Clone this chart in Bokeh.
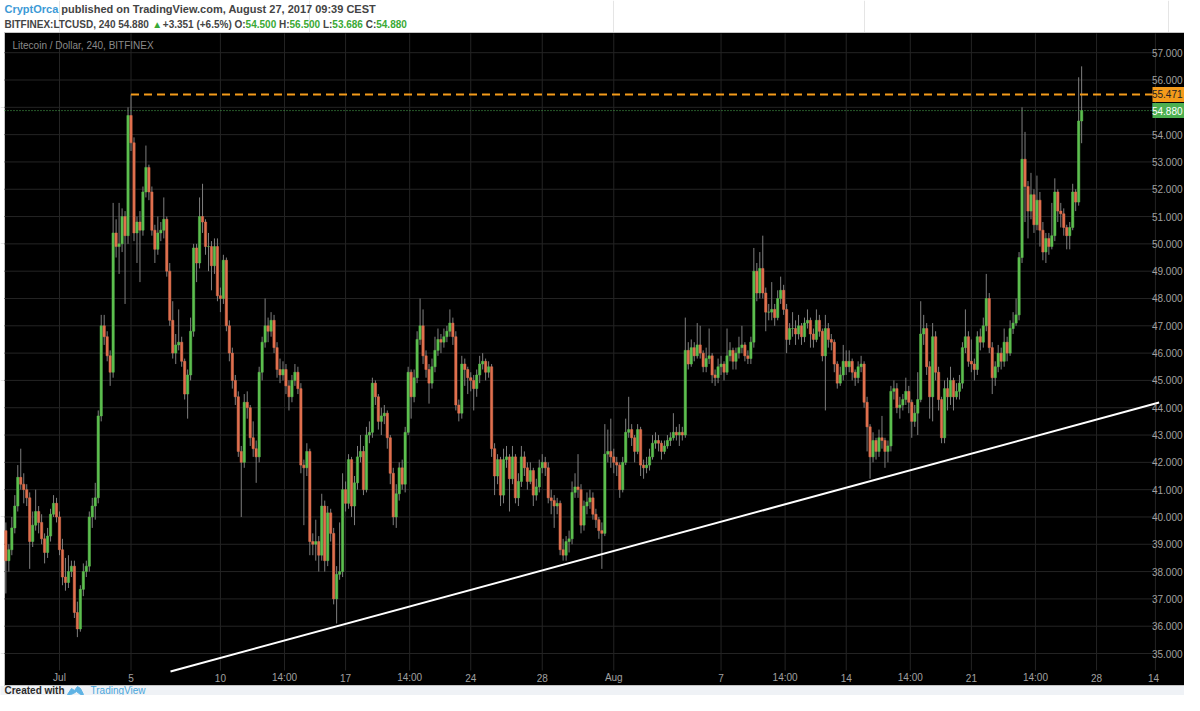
import pandas as pd
from bokeh.plotting import figure
from bokeh.models import Range1d
from bokeh.core.properties import value
from bokeh.embed import file_html
from bokeh.resources import INLINE

# ---------------- data (4h candles, BITFINEX:LTCUSD) ----------------
START = "2017-06-28 00:00"
BAR_HOURS = 4
FIRST_OPEN = 39.5

closes = [
    38.4, 38.8, 39.6, 40.4, 41.45, 41.2,
    41.0, 40.7, 39.1, 39.7, 40.2, 39.8,
    39.2, 38.7, 39.3, 40.1, 40.5, 40.0,
    38.8, 37.8, 37.6, 38.0, 38.2, 36.5,
    35.9, 37.35, 38.0, 38.2, 40.0, 40.4,
    40.7, 43.7, 47.0, 46.6, 45.9, 45.3,
    50.4, 49.9, 50.0, 51.0, 50.3, 54.7,
    53.7, 50.4, 50.8, 50.5, 51.9, 52.8,
    51.9, 50.5, 49.8, 50.4, 50.5, 50.9,
    49.0, 47.2, 46.0, 46.3, 46.4, 45.7,
    44.5, 45.2, 46.8, 49.85, 49.3, 51.0,
    50.8, 49.9, 49.9, 49.2, 49.9, 48.1,
    48.0, 49.4, 47.0, 46.0, 45.0, 44.4,
    42.4, 42.0, 44.2, 44.0, 42.9, 42.5,
    42.2, 45.3, 46.4, 47.0, 46.8, 47.2,
    46.2, 45.4, 45.2, 45.4, 44.8, 44.4,
    45.0, 45.3, 44.7, 41.9, 41.8, 42.4,
    39.1, 39.0, 39.1, 38.6, 40.4, 38.4,
    40.15, 39.4, 37.0, 37.9, 38.0, 41.0,
    40.5, 42.1, 40.4, 41.25, 42.2, 42.4,
    41.0, 43.0, 43.1, 44.9, 44.4, 43.5,
    43.7, 43.8, 42.9, 41.6, 40.0, 40.85,
    41.8, 41.2, 43.1, 45.3, 44.4, 45.1,
    46.5, 47.0, 45.9, 45.4, 44.9, 45.5,
    46.1, 46.5, 46.4, 46.6, 46.8, 47.1,
    46.6, 44.1, 43.8, 45.6, 45.4, 45.1,
    45.0, 44.7, 45.2, 45.6, 45.7, 45.3,
    45.5, 42.5, 41.5, 42.1, 40.8, 42.1,
    42.2, 41.4, 42.2, 40.7, 41.3, 42.2,
    41.8, 41.3, 41.7, 40.8, 41.1, 41.8,
    42.0, 41.8, 40.7, 40.6, 40.4, 40.5,
    38.8, 38.6, 39.1, 39.2, 40.9, 41.1,
    41.0, 39.7, 40.4, 40.55, 40.7, 40.1,
    39.9, 39.5, 39.4, 42.3, 42.4, 42.2,
    42.0, 41.9, 41.0, 42.0, 43.1, 43.2,
    42.9, 42.4, 43.2, 41.9, 41.8, 41.9,
    42.2, 42.7, 42.8, 42.7, 42.4, 42.6,
    42.8, 42.9, 43.1, 43.0, 43.1, 43.0,
    46.1, 45.6, 46.2, 45.9, 46.3, 46.0,
    45.5, 45.8, 45.9, 45.2, 45.1, 45.5,
    45.6, 45.3, 45.9, 46.1, 45.7, 46.0,
    46.2, 46.3, 45.9, 45.8, 46.4, 49.0,
    48.2, 49.1, 48.2, 47.5, 47.5, 47.6,
    47.3, 48.0, 48.3, 47.6, 46.5, 46.9,
    46.9, 46.7, 47.0, 46.6, 47.1, 47.2,
    46.7, 46.5, 47.2, 46.8, 45.9, 46.9,
    46.5, 46.4, 45.6, 44.9, 45.2, 45.7,
    45.5, 45.7, 45.3, 45.1, 45.5, 45.6,
    44.2, 43.3, 42.2, 42.8, 42.4, 42.9,
    42.8, 42.4, 42.6, 44.6, 44.7, 44.0,
    44.1, 44.3, 44.6, 44.2, 43.5, 43.8,
    44.3, 46.7, 46.9, 45.5, 44.4, 46.6,
    45.3, 44.3, 42.9, 44.7, 44.4, 45.0,
    44.4, 44.6, 44.9, 46.2, 46.6, 45.7,
    45.6, 45.4, 46.6, 46.4, 47.0, 48.0,
    46.2, 45.1, 45.5, 46.0, 45.7, 46.4,
    46.0, 46.9, 47.1, 47.4, 49.5, 53.1,
    52.1, 51.2, 51.8, 50.7, 51.6, 50.5,
    49.7, 50.2, 49.9, 50.3, 51.9, 51.2,
    51.1, 50.6, 50.3, 50.6, 51.9, 51.529,
    54.5, 54.88,
]

highs = [
    39.8, 39.0, 40.0, 40.8, 41.9, 42.5,
    41.6, 41.2, 40.9, 40.2, 41.0, 40.4,
    40.1, 39.4, 39.6, 40.3, 40.8, 40.7,
    40.2, 39.2, 38.5, 38.6, 38.4, 38.4,
    36.9, 37.5, 38.3, 38.4, 40.2, 40.7,
    41.25, 43.9, 47.4, 47.4, 46.8, 46.1,
    51.5, 50.9, 51.5, 51.3, 51.2, 55.0,
    55.471, 53.9, 51.0, 51.2, 52.1, 53.6,
    52.9, 52.1, 50.7, 51.0, 50.8, 51.7,
    51.0, 49.3, 47.9, 46.7, 47.6, 46.6,
    45.8, 45.4, 47.3, 50.0, 50.0, 51.7,
    52.2, 50.9, 50.4, 50.1, 50.2, 50.2,
    48.4, 49.6, 49.5, 47.2, 46.2, 45.2,
    44.6, 42.6, 44.5, 44.6, 44.1, 43.5,
    42.8, 45.5, 46.6, 48.0, 47.3, 47.5,
    47.4, 46.4, 45.8, 45.7, 45.6, 45.0,
    45.2, 45.6, 45.5, 44.9, 42.1, 42.7,
    42.5, 39.4, 39.9, 39.3, 40.85, 40.6,
    40.4, 40.3, 39.6, 38.2, 39.8, 41.6,
    41.3, 42.3, 42.2, 41.5, 42.6, 43.0,
    42.6, 43.3, 43.5, 45.1, 45.0, 44.5,
    44.0, 44.1, 43.9, 43.0, 41.8, 41.2,
    42.0, 42.1, 43.3, 45.5, 45.4, 45.4,
    46.8, 48.0, 47.6, 46.1, 45.6, 45.8,
    46.6, 46.9, 46.7, 46.9, 47.0, 47.6,
    47.3, 46.8, 44.3, 45.9, 45.8, 45.5,
    45.3, 45.2, 45.4, 45.9, 46.0, 45.8,
    45.7, 45.6, 42.7, 42.3, 42.2, 42.5,
    42.6, 42.3, 42.6, 42.3, 41.6, 42.6,
    42.4, 42.0, 42.0, 41.8, 41.4, 42.1,
    42.3, 42.2, 42.0, 41.0, 40.8, 40.7,
    40.6, 39.2, 39.3, 39.5, 41.3, 41.6,
    42.3, 41.2, 40.6, 40.9, 41.0, 40.9,
    40.3, 40.0, 39.8, 43.4, 43.2, 43.6,
    42.5, 42.2, 42.0, 42.2, 43.6, 44.4,
    43.4, 43.0, 43.4, 43.3, 42.1, 42.2,
    42.5, 43.0, 43.1, 43.0, 42.8, 42.8,
    43.0, 43.1, 43.8, 43.3, 43.4, 43.3,
    47.3, 46.4, 46.5, 46.4, 47.1, 47.0,
    46.1, 46.2, 46.9, 46.0, 45.4, 45.8,
    45.9, 45.7, 46.9, 46.4, 46.2, 46.2,
    46.6, 47.0, 46.4, 46.1, 46.6, 49.85,
    49.3, 49.7, 50.3, 48.4, 47.8, 48.6,
    47.8, 48.3, 48.8, 48.5, 47.8, 47.1,
    47.5, 47.2, 47.4, 47.1, 47.3, 47.6,
    47.3, 46.9, 47.6, 47.4, 46.9, 47.4,
    47.1, 46.7, 46.5, 45.7, 45.5, 46.3,
    46.1, 46.1, 45.8, 45.4, 45.7, 45.9,
    45.7, 44.4, 43.4, 43.1, 42.9, 43.2,
    43.7, 42.9, 42.8, 44.8, 45.0, 44.9,
    44.4, 44.5, 45.1, 44.8, 44.3, 44.1,
    45.3, 47.9, 47.4, 47.1, 45.7, 47.1,
    46.8, 45.5, 44.4, 45.0, 45.1, 45.5,
    45.1, 44.9, 45.2, 46.4, 47.6, 46.8,
    46.5, 45.8, 46.8, 46.9, 47.3, 48.9,
    48.2, 46.4, 45.7, 46.3, 46.2, 46.9,
    46.6, 47.2, 47.5, 48.0, 49.7, 55.0,
    54.1, 52.3, 52.6, 52.0, 52.5, 51.9,
    50.8, 50.4, 50.4, 51.5, 52.4, 52.0,
    51.5, 51.3, 50.7, 50.8, 52.2, 52.0,
    56.1, 56.5,
]

lows = [
    37.2, 38.0, 38.6, 39.4, 40.2, 41.0,
    40.5, 40.4, 38.1, 38.9, 39.5, 39.4,
    39.0, 38.3, 38.5, 39.1, 40.0, 39.8,
    38.6, 37.5, 37.3, 37.4, 37.8, 36.3,
    35.6, 35.8, 37.1, 37.8, 38.0, 39.6,
    39.9, 40.5, 43.5, 46.3, 45.7, 44.8,
    45.1, 49.5, 48.9, 49.7, 47.8, 50.0,
    53.4, 50.1, 49.3, 48.6, 50.3, 51.7,
    51.6, 50.3, 49.3, 49.6, 50.1, 50.2,
    48.8, 47.0, 45.8, 45.6, 46.1, 45.5,
    44.3, 43.6, 45.0, 46.6, 48.6, 49.1,
    50.4, 49.6, 49.0, 48.3, 48.9, 47.9,
    47.5, 47.8, 46.8, 45.7, 44.7, 44.1,
    42.2, 40.0, 41.8, 43.6, 42.6, 42.2,
    41.25, 42.0, 45.0, 46.2, 46.4, 46.6,
    46.0, 45.1, 44.9, 45.0, 44.5, 43.9,
    44.2, 44.8, 44.5, 41.6, 39.7, 41.5,
    38.6, 38.6, 38.4, 38.0, 38.4, 38.0,
    38.2, 39.1, 36.8, 36.1, 37.7, 37.8,
    40.2, 40.3, 40.0, 39.7, 41.0, 42.0,
    40.8, 40.9, 42.7, 42.9, 44.1, 43.2,
    43.0, 43.4, 42.5, 41.2, 39.7, 39.6,
    40.6, 41.0, 40.9, 43.0, 43.6, 44.2,
    44.9, 46.3, 45.6, 45.1, 44.15, 44.7,
    45.3, 45.9, 46.0, 46.2, 46.4, 46.6,
    46.3, 43.9, 43.5, 43.6, 44.8, 44.5,
    44.6, 43.9, 44.4, 44.9, 45.4, 45.0,
    45.1, 42.2, 40.8, 41.2, 40.4, 40.5,
    41.8, 40.2, 41.2, 40.5, 40.4, 41.1,
    41.5, 41.0, 41.2, 40.4, 40.6, 40.9,
    41.6, 41.5, 40.5, 40.1, 39.6, 40.1,
    38.6, 38.4, 38.4, 38.7, 39.0, 40.7,
    40.7, 39.4, 39.5, 40.1, 40.3, 39.9,
    39.6, 39.2, 38.1, 39.3, 42.0, 41.8,
    41.6, 41.5, 40.7, 40.9, 41.9, 42.9,
    42.6, 42.0, 42.3, 41.5, 41.4, 41.6,
    41.7, 42.1, 42.5, 42.4, 42.1, 42.3,
    42.5, 42.6, 42.8, 42.8, 42.6, 42.8,
    42.9, 45.4, 45.5, 45.7, 45.8, 45.8,
    45.3, 45.3, 45.6, 44.9, 44.8, 44.9,
    45.2, 45.0, 45.2, 45.7, 45.4, 45.4,
    45.8, 46.0, 45.7, 45.6, 45.6, 46.2,
    47.9, 48.0, 48.0, 46.8, 47.2, 47.2,
    47.0, 47.2, 47.8, 47.4, 46.0, 46.3,
    46.6, 46.3, 46.5, 46.3, 46.4, 46.9,
    46.2, 46.2, 46.4, 46.6, 45.7, 43.9,
    46.2, 46.1, 45.3, 44.7, 44.8, 45.0,
    45.2, 45.3, 45.0, 44.8, 44.9, 45.3,
    44.0, 42.4, 41.4, 42.0, 42.1, 42.2,
    42.5, 41.8, 42.0, 42.4, 44.3, 43.8,
    43.6, 43.9, 44.1, 43.8, 42.9, 43.3,
    43.0, 44.2, 46.3, 45.2, 43.6, 43.5,
    45.0, 43.9, 42.7, 42.7, 43.9, 44.1,
    43.9, 44.3, 44.3, 44.7, 46.0, 45.5,
    45.3, 45.0, 45.2, 46.1, 46.2, 46.8,
    46.0, 44.5, 44.8, 45.3, 45.4, 45.5,
    45.7, 45.9, 46.7, 47.0, 47.2, 49.3,
    50.8, 50.2, 50.9, 50.4, 50.5, 49.9,
    49.4, 49.3, 49.6, 49.8, 50.1, 50.8,
    50.6, 50.3, 49.8, 49.8, 50.5, 51.2,
    51.4, 53.686,
]

price_ticks = list(range(35, 58))
time_ticks = ["2017-07-01", "2017-07-05", "2017-07-10", "2017-07-13 14:00",
              "2017-07-17", "2017-07-20 14:00", "2017-07-24", "2017-07-28",
              "2017-08-01", "2017-08-07", "2017-08-10 14:00", "2017-08-14",
              "2017-08-17 14:00", "2017-08-21", "2017-08-24 14:00", "2017-08-28",
              "2017-08-31 07:00"]
time_labels = ["Jul", "5", "10", "14:00", "17", "14:00", "24", "28", "Aug", "7",
               "14:00", "14", "14:00", "21", "14:00", "28", "14"]

trend_times = ["2017-07-07 05:00", "2017-08-31 12:00"]
trend_prices = [34.34, 44.19]
resistance_price = 55.471
resistance_from = "2017-07-05 00:00"
last_price = 54.880

header_line1 = [("CryptOrca", "#3d9ad6"),
                ("published on TradingView.com, August 27, 2017 09:39 CEST", "#444444")]
header_line2 = [("BITFINEX:LTCUSD, 240 54.880", "#444444"), ("\u25b2", "#3aa935"),
                ("+3.351 (+6.5%)", "#444444"),
                ("O:", "#444444"), ("54.500", "#3aa935"), ("H:", "#444444"), ("56.500", "#3aa935"),
                ("L:", "#444444"), ("53.686", "#3aa935"), ("C:", "#444444"), ("54.880", "#3aa935")]

# ---------------- layout helpers (reference pixel -> data) ----------------
PX_DAY = 17.88
JUL1 = pd.Timestamp("2017-07-01")


def ms(t):
    return pd.Timestamp(t).value / 1e6


def tx(ref_x):
    return ms(JUL1 + pd.Timedelta(days=(ref_x - 59.0) / PX_DAY))


def py(ref_y):
    return 57.0 - (ref_y - 52.2) / 27.31


# approximate advance widths (1/1000 em) of Liberation Sans Bold, for laying out header pieces
_W = {" ": 278, "%": 889, "(": 333, ")": 333, "+": 584, ",": 278, ".": 278, ":": 333, "/": 278,
      "\u25b2": 770}
_W.update({d: 556 for d in "0123456789"})
_W.update(dict(zip("ABCDEFGHIJKLMNOPQRSTUVWXYZ",
                   [722, 722, 722, 722, 667, 611, 778, 722, 278, 556, 722, 611, 833, 722, 778,
                    667, 778, 722, 667, 611, 722, 667, 944, 667, 667, 611])))
_W.update(dict(zip("abcdefghijklmnopqrstuvwxyz",
                   [556, 611, 556, 611, 556, 333, 611, 611, 278, 278, 556, 278, 889, 611, 611,
                    611, 611, 389, 556, 333, 611, 556, 778, 556, 556, 500])))


def text_w(s, size):
    return sum(_W.get(ch, 556) for ch in s) * size / 1000.0


FONT = "Liberation Sans"

p = figure(width=1184, height=695, output_backend="svg", toolbar_location=None,
           x_axis_type="datetime", x_axis_location=None, y_axis_location=None,
           x_range=Range1d(tx(0), tx(1184)), y_range=Range1d(py(695), py(0)),
           min_border=0, min_border_left=0, min_border_right=0,
           min_border_top=0, min_border_bottom=0)
p.outline_line_color = None
p.background_fill_color = "white"
p.border_fill_color = "white"

# chart panel
p.quad(left=[tx(4)], right=[tx(1196)], top=[py(32)], bottom=[py(685)],
       fill_color="black", line_color="#c4c4c4", line_width=1)
# footer band
p.quad(left=[tx(-2)], right=[tx(1200)], top=[py(685.5)], bottom=[py(700)],
       fill_color="#eff2f6", line_color=None)

# grid
p.segment(x0=[tx(4)] * len(price_ticks), x1=[tx(1156)] * len(price_ticks),
          y0=price_ticks, y1=price_ticks, line_color="#242424", line_width=1)
tt = [ms(t) for t in time_ticks]
p.segment(x0=tt, x1=tt, y0=[py(33)] * len(tt), y1=[py(670)] * len(tt),
          line_color="#242424", line_width=1)

# candles
n = len(closes)
opens = [FIRST_OPEN] + closes[:-1]
times = [ms(pd.Timestamp(START) + pd.Timedelta(hours=BAR_HOURS * i)) for i in range(n)]
up = [c >= o for o, c in zip(opens, closes)]
colors = ["#5cbf4f" if u else "#e0704f" for u in up]
tops = [max(o, c) for o, c in zip(opens, closes)]
bots = [min(o, c) for o, c in zip(opens, closes)]
bar_w = BAR_HOURS * 3600 * 1000 * 0.78

p.segment(x0=times, x1=times, y0=lows, y1=highs, line_color="#7e7e7e", line_width=1)
p.vbar(x=times, width=bar_w, top=tops, bottom=bots, fill_color=colors,
       line_color=colors, line_width=0.5)

# trend line
p.line(x=[ms(t) for t in trend_times], y=trend_prices, line_color="white", line_width=2)

# last price dotted line and resistance dashed line
p.line(x=[tx(4), tx(1156)], y=[last_price, last_price], line_color="#4caf50",
       line_width=1, line_dash="1 2")
p.line(x=[ms(resistance_from), tx(1156)], y=[resistance_price, resistance_price],
       line_color="#f49b1b", line_width=2, line_dash="8 5")

# price axis labels
p.text(x=[tx(1182)] * len(price_ticks), y=price_ticks,
       text=["%.3f" % v for v in price_ticks], text_align="right",
       text_baseline="middle", text_font=value(FONT), text_font_size="10px",
       text_color="#a0a0a0")
# time axis labels
lab_x = tt[:-1] + [tx(1153)]
p.text(x=lab_x, y=[py(677)] * len(lab_x), text=time_labels, text_align="center",
       text_baseline="middle", text_font=value(FONT), text_font_size="10px",
       text_color="#a0a0a0")

# price boxes
hh = 7.5 / 27.31
p.quad(left=[tx(1152)], right=[tx(1196)], top=[resistance_price + hh],
       bottom=[resistance_price - hh], fill_color="#f49b1b", line_color=None)
p.quad(left=[tx(1152)], right=[tx(1196)], top=[last_price + hh],
       bottom=[last_price - hh], fill_color="#4caf50", line_color=None)
p.text(x=[tx(1182)], y=[resistance_price], text=["%.3f" % resistance_price],
       text_align="right", text_baseline="middle", text_font=value(FONT),
       text_font_size="10px", text_color="#222222")
p.text(x=[tx(1182)], y=[last_price], text=["%.3f" % last_price],
       text_align="right", text_baseline="middle", text_font=value(FONT),
       text_font_size="10px", text_color="white")

# symbol caption
p.text(x=[tx(12)], y=[py(45)], text=["Litecoin / Dollar, 240, BITFINEX"],
       text_align="left", text_baseline="middle", text_font=value(FONT),
       text_font_size="10px", text_color="#8a8a8a")


# header (pieces laid out one after another)
def header_row(pieces, ref_y, size, gaps):
    xs, cur = [], 4.0
    for (s, _), g in zip(pieces, gaps):
        xs.append(cur)
        cur += text_w(s, size) + (text_w(" ", size) if g else 0)
    p.text(x=[tx(v) for v in xs], y=[py(ref_y)] * len(pieces), text=[s for s, _ in pieces],
           text_color=[c for _, c in pieces], text_align="left", text_baseline="middle",
           text_font=value(FONT), text_font_size="%gpx" % size, text_font_style="bold")


header_row(header_line1, 8.5, 11, [True, True])
header_row(header_line2, 23.5, 10, [True, True, True, False, True, False, True, False, True, False, True])

# footer
p.text(x=[tx(4)], y=[py(690)], text=["Created with"], text_align="left",
       text_baseline="middle", text_font=value(FONT), text_font_size="10px",
       text_font_style="bold", text_color="#2a2a2a")
p.patch(x=[tx(67), tx(71), tx(74), tx(77), tx(80), tx(83), tx(80), tx(76), tx(73), tx(70)],
        y=[py(694), py(688), py(690), py(686), py(688), py(694), py(694), py(691), py(693), py(694)],
        fill_color="#5fb3e4", line_color="#5fb3e4")
p.text(x=[tx(90)], y=[py(690)], text=["TradingView"], text_align="left",
       text_baseline="middle", text_font=value(FONT), text_font_size="10px",
       text_color="#4aa6dc")

open("out.html", "w").write(file_html(p, INLINE))
